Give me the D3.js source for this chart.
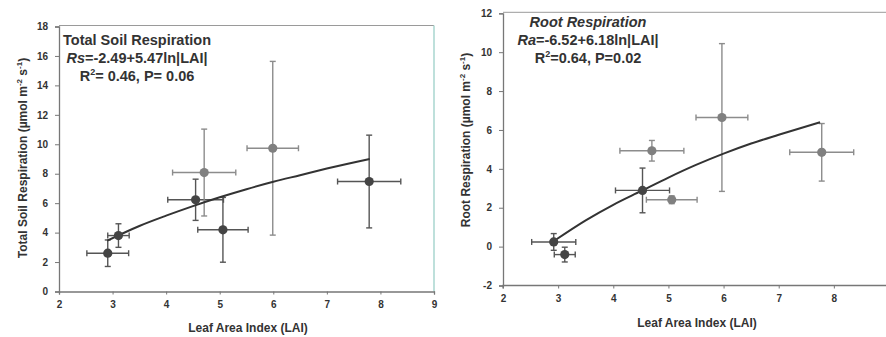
<!DOCTYPE html>
<html><head><meta charset="utf-8">
<script src="https://cdn.jsdelivr.net/npm/d3@7"></script>
<style>
html,body{margin:0;padding:0;background:#fff;}
svg{display:block;font-family:"Liberation Sans",Arial,sans-serif;}
</style></head>
<body><svg id="chart" width="886" height="337"></svg>
<script>
// ---------- data ----------
const xTicks = [2, 3, 4, 5, 6, 7, 8, 9];
const totalYTicks = [0, 2, 4, 6, 8, 10, 12, 14, 16, 18];
const rootYTicks = [-2, 0, 2, 4, 6, 8, 10, 12];

// Total soil respiration (left panel)
const totalLAI    = [2.91, 3.11, 4.55, 4.71, 5.06, 5.99, 7.79];
const totalRs     = [2.60, 3.80, 6.23, 8.08, 4.19, 9.73, 7.47];
const totalLAIErr = [0.39, 0.20, 0.52, 0.59, 0.47, 0.48, 0.59];
const totalRsErr  = [0.90, 0.80, 1.40, 2.95, 2.20, 5.90, 3.15];
const totalGroup  = ["A", "A", "A", "B", "A", "B", "A"];
const totalFitLAI = [2.9, 3.5, 4.0, 4.5, 5.0, 5.5, 6.0, 6.5, 7.0, 7.8];
const totalFitRs  = [3.45, 4.45, 5.15, 5.8, 6.4, 6.95, 7.45, 7.9, 8.35, 9.0];

// Root respiration (right panel)
const rootLAI    = [2.92, 3.12, 4.53, 4.70, 5.06, 5.97, 7.78];
const rootRa     = [0.24, -0.41, 2.89, 4.93, 2.41, 6.64, 4.85];
const rootLAIErr = [0.40, 0.19, 0.49, 0.58, 0.46, 0.47, 0.58];
const rootRaErr  = [0.43, 0.38, 1.15, 0.53, 0.20, 3.80, 1.48];
const rootGroup  = ["A", "A", "A", "B", "B", "B", "B"];
const rootFitLAI = [2.93, 3.5, 4.0, 4.5, 5.0, 5.5, 6.0, 6.5, 7.0, 7.75];
const rootFitRa  = [0.3, 1.35, 2.15, 2.85, 3.55, 4.2, 4.78, 5.3, 5.75, 6.4];

// ---------- drawing ----------
const svg = d3.select("#chart");
const markerColor = {A: "#444444", B: "#808080"};
const barColor = {A: "#555555", B: "#8c8c8c"};

function panel(cfg) {
  const g = svg.append("g");
  const x = d3.scaleLinear().domain([2, 9]).range(cfg.xRange);
  const y = d3.scaleLinear().domain(cfg.yDomain).range(cfg.yRange);

  // frame
  g.append("line").attr("x1", cfg.xRange[0]).attr("x2", cfg.frameRight)
    .attr("y1", cfg.yRange[1] - 1).attr("y2", cfg.yRange[1] - 1)
    .attr("stroke", "#9a9a9a").attr("stroke-width", 1);
  if (cfg.showRight) {
    g.append("line").attr("x1", cfg.xRange[1]).attr("x2", cfg.xRange[1])
      .attr("y1", cfg.yRange[1] - 1).attr("y2", cfg.yRange[0])
      .attr("stroke", "#a9d6cf").attr("stroke-width", 1.5);
  }

  // axes
  const xa = g.append("g").attr("transform", `translate(0,${cfg.yRange[0]})`)
    .call(d3.axisBottom(x).tickValues(cfg.xTicks).tickFormat(d => String(d))
      .tickSize(3).tickPadding(6));
  const ya = g.append("g").attr("transform", `translate(${cfg.xRange[0]},0)`)
    .call(d3.axisLeft(y).tickValues(cfg.yTicks).tickFormat(d => String(d))
      .tickSize(4).tickPadding(7));
  [xa, ya].forEach(a => {
    a.select(".domain").attr("stroke", "#777").attr("stroke-width", 1.3);
    a.selectAll(".tick line").attr("stroke", "#777");
    a.selectAll(".tick text").attr("fill", "#333").attr("font-size", 10)
      .attr("font-weight", "bold").attr("font-family", "Liberation Sans, Arial, sans-serif");
  });
  if (cfg.clipX) xa.select(".domain").attr("d", `M${cfg.xRange[0]},3V0H${cfg.frameRight}`);

  // error bars
  const cap = 3;
  cfg.lai.forEach((lx, i) => {
    const cx = x(lx), cy = y(cfg.val[i]);
    const col = barColor[cfg.group[i]];
    const x0 = x(lx - cfg.laiErr[i]), x1 = x(lx + cfg.laiErr[i]);
    const y0 = y(cfg.val[i] - cfg.valErr[i]), y1 = y(cfg.val[i] + cfg.valErr[i]);
    const eb = g.append("g").attr("stroke", col).attr("stroke-width", 1.4).attr("fill", "none");
    eb.append("line").attr("x1", x0).attr("x2", x1).attr("y1", cy).attr("y2", cy);
    eb.append("line").attr("x1", x0).attr("x2", x0).attr("y1", cy - cap).attr("y2", cy + cap);
    eb.append("line").attr("x1", x1).attr("x2", x1).attr("y1", cy - cap).attr("y2", cy + cap);
    eb.append("line").attr("x1", cx).attr("x2", cx).attr("y1", y0).attr("y2", y1);
    eb.append("line").attr("x1", cx - cap).attr("x2", cx + cap).attr("y1", y0).attr("y2", y0);
    eb.append("line").attr("x1", cx - cap).attr("x2", cx + cap).attr("y1", y1).attr("y2", y1);
  });

  // fit curve
  const line = d3.line().x(d => x(d[0])).y(d => y(d[1])).curve(d3.curveMonotoneX);
  g.append("path").datum(cfg.fitX.map((v, i) => [v, cfg.fitY[i]]))
    .attr("d", line).attr("fill", "none").attr("stroke", "#333").attr("stroke-width", 2);

  // markers
  g.selectAll("circle.pt").data(cfg.lai).join("circle").attr("class", "pt")
    .attr("cx", d => x(d)).attr("cy", (d, i) => y(cfg.val[i])).attr("r", 4.6)
    .attr("fill", (d, i) => markerColor[cfg.group[i]]);

  // x-axis title
  g.append("text").attr("x", cfg.xTitle[0]).attr("y", cfg.xTitle[1])
    .attr("text-anchor", "middle").attr("font-size", 12).attr("font-weight", "bold")
    .attr("fill", "#333").text("Leaf Area Index (LAI)");

  // y-axis title
  const yt = g.append("text")
    .attr("transform", `translate(${cfg.yTitle[0]},${cfg.yTitle[1]}) rotate(-90)`)
    .attr("text-anchor", "middle").attr("font-size", 12).attr("font-weight", "bold").attr("fill", "#333");
  yt.append("tspan").text(cfg.yLabel + " (\u00b5mol m");
  yt.append("tspan").attr("font-size", 8).attr("dy", -5).text("-2");
  yt.append("tspan").attr("dy", 5).text(" s");
  yt.append("tspan").attr("font-size", 8).attr("dy", -5).text("-1");
  yt.append("tspan").attr("dy", 5).text(")");

  // annotation
  const a = g.append("g").attr("font-size", cfg.annSize).attr("font-weight", "bold").attr("fill", "#333")
    .attr("text-anchor", "middle");
  const t1 = a.append("text").attr("x", cfg.ann[0]).attr("y", cfg.ann[1]).text(cfg.annTitle);
  if (cfg.titleItalic) t1.attr("font-style", "italic");
  const t2 = a.append("text").attr("x", cfg.ann[0]).attr("y", cfg.ann[1] + 18);
  t2.append("tspan").attr("font-style", "italic").text(cfg.eqVar);
  t2.append("tspan").text(cfg.eqRest);
  const t3 = a.append("text").attr("x", cfg.ann[0]).attr("y", cfg.ann[1] + 36);
  t3.append("tspan").text("R");
  t3.append("tspan").attr("font-size", 9).attr("dy", -6).text("2");
  t3.append("tspan").attr("dy", 6).text(cfg.stat);
}

panel({
  xRange: [59, 434], yDomain: [0, 18], yRange: [291.5, 26.5], frameRight: 434, showRight: true,
  xTicks: xTicks, yTicks: totalYTicks,
  lai: totalLAI, val: totalRs, laiErr: totalLAIErr, valErr: totalRsErr, group: totalGroup,
  fitX: totalFitLAI, fitY: totalFitRs,
  xTitle: [248, 332], yTitle: [27, 158], yLabel: "Total Soil Respiration",
  ann: [137, 45], annSize: 14.5, annTitle: "Total Soil Respiration", titleItalic: false,
  eqVar: "Rs", eqRest: "=-2.49+5.47ln|LAI|", stat: "= 0.46, P= 0.06"
});

panel({
  xRange: [503, 889], yDomain: [-2, 12], yRange: [285.5, 13.3], frameRight: 886, showRight: false, clipX: true,
  xTicks: [2, 3, 4, 5, 6, 7, 8], yTicks: rootYTicks,
  lai: rootLAI, val: rootRa, laiErr: rootLAIErr, valErr: rootRaErr, group: rootGroup,
  fitX: rootFitLAI, fitY: rootFitRa,
  xTitle: [697, 327], yTitle: [470, 140], yLabel: "Root Respiration",
  ann: [588, 27], annSize: 14.5, annTitle: "Root Respiration", titleItalic: true,
  eqVar: "Ra", eqRest: "=-6.52+6.18ln|LAI|", stat: "=0.64, P=0.02"
});
</script>
</body></html>
